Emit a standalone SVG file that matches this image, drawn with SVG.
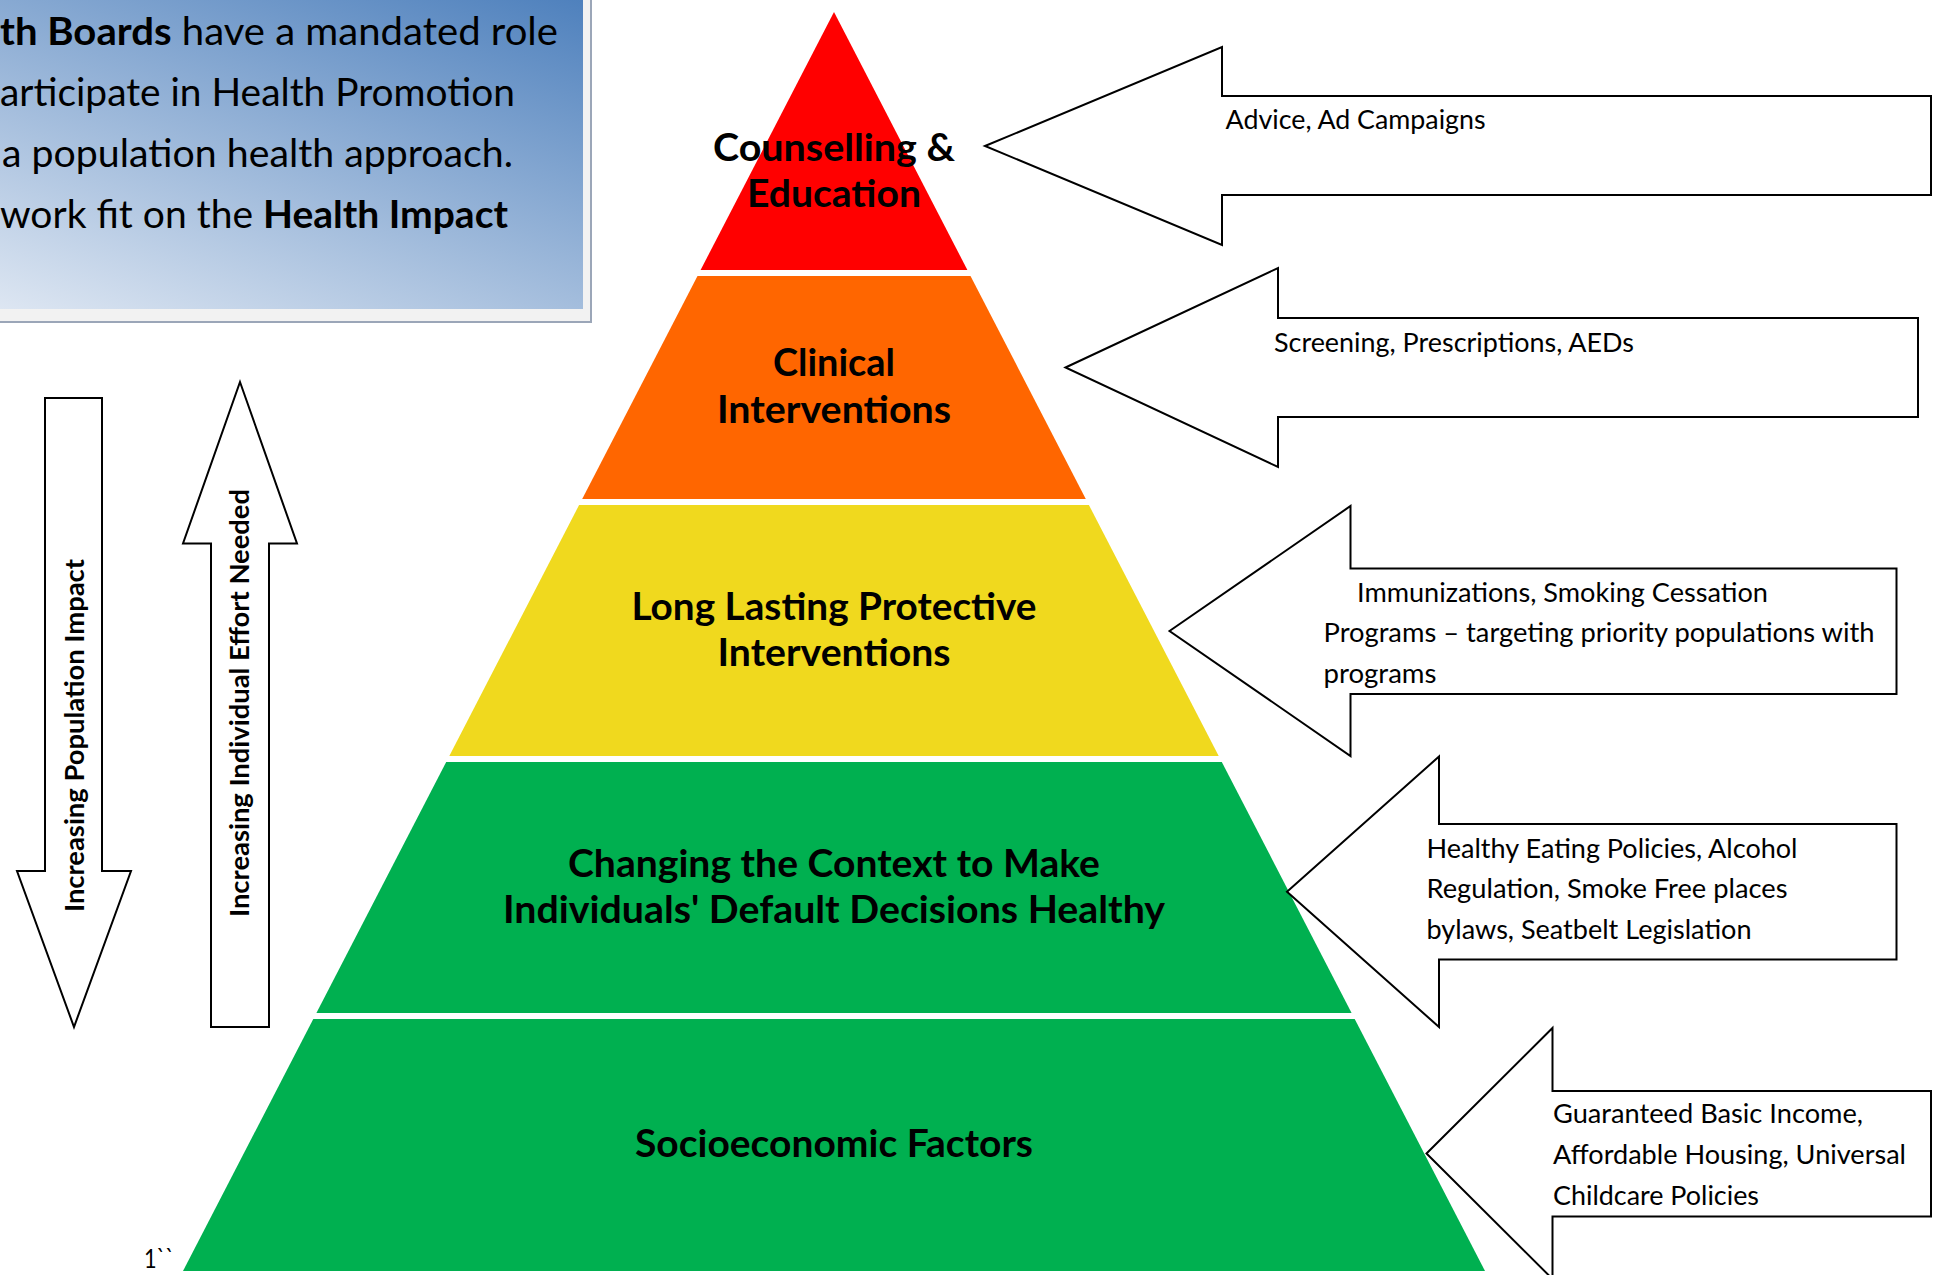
<svg xmlns="http://www.w3.org/2000/svg" width="1935" height="1275" viewBox="0 0 1935 1275">
  <defs>
    <linearGradient id="boxGrad" gradientUnits="userSpaceOnUse" x1="0" y1="309" x2="162" y2="-148">
      <stop offset="0" stop-color="#dde6f2"/>
      <stop offset="1" stop-color="#4f81bd"/>
    </linearGradient>
    <style>
      .tier-label { font-family: Lato, "Open Sans", "Liberation Sans", sans-serif; font-weight: bold; font-size: 38px; fill: #000; text-anchor: middle; }
      .callout { fill: #ffffff; stroke: #000000; stroke-width: 2; stroke-linejoin: miter; }
      .callout-text { font-family: Lato, "Open Sans", "Liberation Sans", sans-serif; font-size: 26.5px; fill: #000; }
      .side-label { font-family: Lato, "Open Sans", "Liberation Sans", sans-serif; font-weight: bold; font-size: 27px; fill: #000; text-anchor: middle; }
      .box-text { font-family: Lato, "Open Sans", "Liberation Sans", sans-serif; font-size: 38px; fill: #000; }
      .b { font-weight: bold; }
    </style>
  </defs>
  <rect x="0" y="0" width="1935" height="1275" fill="#ffffff"/>

  <!-- Intro text box -->
  <g id="intro-box">
    <rect x="-20" y="-20" width="611" height="342" fill="#f2f2f2" stroke="#9ba6b8" stroke-width="2"/>
    <rect x="-20" y="-20" width="603" height="329" fill="url(#boxGrad)"/>
    <text class="box-text" x="0" y="45" textLength="558" lengthAdjust="spacingAndGlyphs"><tspan class="b">th Boards</tspan> have a mandated role</text>
    <text class="box-text" x="0" y="106" textLength="515" lengthAdjust="spacingAndGlyphs">articipate in Health Promotion</text>
    <text class="box-text" x="2" y="167" textLength="511" lengthAdjust="spacingAndGlyphs">a population health approach.</text>
    <text class="box-text" x="0" y="228" textLength="508" lengthAdjust="spacingAndGlyphs">work fit on the <tspan class="b">Health Impact</tspan></text>
  </g>

  <!-- Pyramid tiers -->
  <g id="tier-counselling">
    <polygon points="834,12 967.4,270 700.6,270" fill="#ff0000"/>
    <text class="tier-label" x="834" y="161" textLength="242" lengthAdjust="spacingAndGlyphs">Counselling &amp;</text>
    <text class="tier-label" x="834" y="207" textLength="174" lengthAdjust="spacingAndGlyphs">Education</text>
  </g>
  <g id="tier-clinical">
    <polygon points="697.5,276 970.5,276 1085.8,499 582.2,499" fill="#ff6600"/>
    <text class="tier-label" x="834" y="376" textLength="122" lengthAdjust="spacingAndGlyphs">Clinical</text>
    <text class="tier-label" x="834" y="423" textLength="234" lengthAdjust="spacingAndGlyphs">Interventions</text>
  </g>
  <g id="tier-protective">
    <polygon points="579.1,505 1088.9,505 1218.7,756 449.3,756" fill="#f0d91e"/>
    <text class="tier-label" x="834" y="619.5" textLength="405" lengthAdjust="spacingAndGlyphs">Long Lasting Protective</text>
    <text class="tier-label" x="834" y="666" textLength="233" lengthAdjust="spacingAndGlyphs">Interventions</text>
  </g>
  <g id="tier-context">
    <polygon points="446.2,762 1221.8,762 1351.6,1013 316.4,1013" fill="#00b050"/>
    <text class="tier-label" x="834" y="876.5" textLength="532" lengthAdjust="spacingAndGlyphs">Changing the Context to Make</text>
    <text class="tier-label" x="834" y="923" textLength="662" lengthAdjust="spacingAndGlyphs">Individuals' Default Decisions Healthy</text>
  </g>
  <g id="tier-socioeconomic">
    <polygon points="313.3,1019 1354.7,1019 1485,1271 183,1271" fill="#00b050"/>
    <text class="tier-label" x="834" y="1157" textLength="398" lengthAdjust="spacingAndGlyphs">Socioeconomic Factors</text>
  </g>

  <!-- Side arrows -->
  <g id="arrow-population-impact">
    <polygon class="callout" points="45,398 102,398 102,871 131,871 74,1027 17,871 45,871"/>
    <text class="side-label" transform="translate(84,735.5) rotate(-90)" x="0" y="0" textLength="353" lengthAdjust="spacingAndGlyphs">Increasing Population Impact</text>
  </g>
  <g id="arrow-individual-effort">
    <polygon class="callout" points="240,382 297,543.5 269,543.5 269,1027 211,1027 211,543.5 183,543.5"/>
    <text class="side-label" transform="translate(249,703) rotate(-90)" x="0" y="0" textLength="428" lengthAdjust="spacingAndGlyphs">Increasing Individual Effort Needed</text>
  </g>

  <!-- Callout arrows -->
  <g id="callout-counselling">
    <polygon class="callout" points="985,146 1222,47 1222,96 1931,96 1931,195 1222,195 1222,245"/>
    <text class="callout-text" x="1225.6" y="129" textLength="260" lengthAdjust="spacingAndGlyphs">Advice, Ad Campaigns</text>
  </g>
  <g id="callout-clinical">
    <polygon class="callout" points="1065.5,367.5 1278,268 1278,318 1918,318 1918,417 1278,417 1278,467"/>
    <text class="callout-text" x="1274" y="352" textLength="360" lengthAdjust="spacingAndGlyphs">Screening, Prescriptions, AEDs</text>
  </g>
  <g id="callout-protective">
    <polygon class="callout" points="1169.5,631 1350.5,506 1350.5,568.5 1896.5,568.5 1896.5,694 1350.5,694 1350.5,756"/>
    <text class="callout-text" x="1357" y="602" textLength="411" lengthAdjust="spacingAndGlyphs">Immunizations, Smoking Cessation</text>
    <text class="callout-text" x="1323.5" y="642" textLength="551" lengthAdjust="spacingAndGlyphs">Programs – targeting priority populations with</text>
    <text class="callout-text" x="1323.5" y="683" textLength="113" lengthAdjust="spacingAndGlyphs">programs</text>
  </g>
  <g id="callout-context">
    <polygon class="callout" points="1287,891.8 1439,756.5 1439,824 1896.5,824 1896.5,959.5 1439,959.5 1439,1027"/>
    <text class="callout-text" x="1426.5" y="858" textLength="371" lengthAdjust="spacingAndGlyphs">Healthy Eating Policies, Alcohol</text>
    <text class="callout-text" x="1426.5" y="898" textLength="361" lengthAdjust="spacingAndGlyphs">Regulation, Smoke Free places</text>
    <text class="callout-text" x="1426.5" y="939" textLength="325" lengthAdjust="spacingAndGlyphs">bylaws, Seatbelt Legislation</text>
  </g>
  <g id="callout-socioeconomic">
    <polygon class="callout" points="1426.5,1153.5 1552.5,1028 1552.5,1091 1931,1091 1931,1216.5 1552.5,1216.5 1552.5,1279"/>
    <text class="callout-text" x="1553" y="1123" textLength="310" lengthAdjust="spacingAndGlyphs">Guaranteed Basic Income,</text>
    <text class="callout-text" x="1553" y="1164" textLength="353" lengthAdjust="spacingAndGlyphs">Affordable Housing, Universal</text>
    <text class="callout-text" x="1553" y="1205" textLength="206" lengthAdjust="spacingAndGlyphs">Childcare Policies</text>
  </g>

  <g id="connectors"></g>

  <g id="footnote">
    <text class="callout-text" x="144" y="1268" font-size="22" textLength="30" lengthAdjust="spacingAndGlyphs">1``</text>
  </g>
</svg>
